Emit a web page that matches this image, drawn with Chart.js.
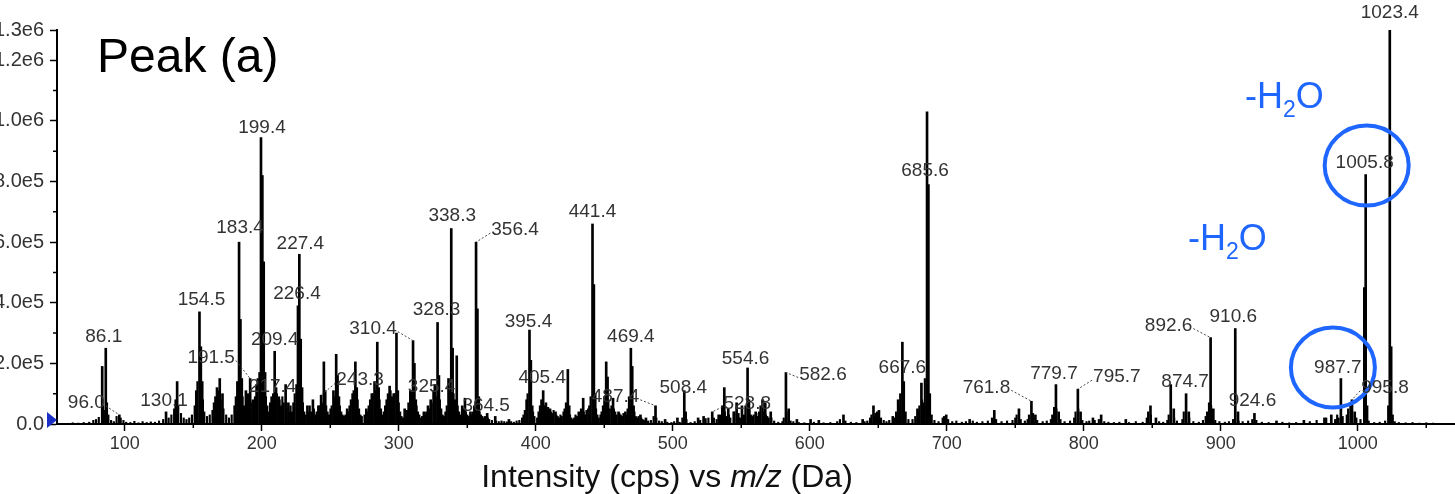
<!DOCTYPE html>
<html>
<head>
<meta charset="utf-8">
<title>Peak (a)</title>
<script src="https://cdn.jsdelivr.net/npm/chart.js@4.4.1/dist/chart.umd.min.js"></script>
<style>
  html, body { margin: 0; padding: 0; background: #fff; overflow: hidden; }
  #wrap { position: relative; width: 1455px; height: 494px; }
</style>
</head>
<body>
<div id="wrap"><canvas id="spectrum" width="1455" height="494"></canvas></div>
<script>
// main fragment peaks: m/z (Da) and intensity (cps)
const peakMz = [
  83.5, 86.1, 96.0, 130.1, 138.2, 154.5, 155.5, 156.5, 167.3, 169.3,
  171.3, 183.4, 184.4, 185.4, 188.4, 191.5, 193.5, 198.4, 199.4, 200.4,
  201.4, 202.4, 208.4, 209.4, 210.4, 212.4, 217.4, 219.4, 225.4, 226.4,
  227.4, 228.4, 229.4, 233.3, 237.3, 241.3, 243.3, 245.3, 246.3, 250.3,
  252.3, 254.3, 255.3, 256.3, 262.3, 266.3, 268.3, 269.3, 276.3, 280.3,
  282.3, 284.3, 285.3, 293.3, 296.3, 298.3, 299.3, 304.3, 308.4, 310.4,
  311.4, 312.4, 318.3, 321.3, 323.3, 325.4, 326.3, 328.3, 329.3, 336.3,
  338.3, 339.3, 342.3, 346.3, 348.3, 352.3, 356.4, 357.4, 358.4, 364.5,
  370.4, 380.4, 393.3, 395.4, 396.4, 397.4, 405.4, 407.4, 410.4, 414.4,
  420.4, 423.4, 424.4, 431.4, 434.6, 438.4, 441.4, 442.4, 443.4, 447.4,
  451.4, 452.4, 455.4, 456.4, 460.4, 465.4, 469.4, 470.4, 471.4, 476.4,
  480.4, 487.4, 494.4, 503.4, 508.4, 509.4, 518.5, 522.5, 528.8, 533.5,
  537.6, 540.5, 544.5, 546.6, 550.5, 554.6, 555.6, 560.5, 565.5, 567.5,
  571.5, 582.6, 584.6, 590.6, 600.6, 606.6, 624.6, 638.6, 646.5, 650.5,
  660.6, 664.5, 667.6, 668.6, 678.6, 681.5, 683.6, 685.6, 686.6, 687.6,
  699.6, 716.7, 734.7, 752.7, 761.8, 764.7, 778.5, 779.7, 781.7, 795.7,
  797.7, 806.7, 812.7, 830.7, 848.7, 852.7, 863.5, 865.7, 874.7, 876.7,
  891.6, 892.6, 894.6, 910.6, 912.6, 924.6, 940.7, 960.7, 975.7, 980.7,
  983.7, 987.7, 994.8, 995.8, 997.8, 1004.8, 1005.8, 1006.8, 1022.4, 1023.4,
  1024.4, 1025.4
];
const peakIntensity = [
  190000, 250000, 30000, 40000, 140000, 370000, 255000, 140000, 120000, 150000,
  100000, 600000, 345000, 150000, 110000, 150000, 80000, 170000, 945000, 820000,
  535000, 170000, 100000, 240000, 120000, 90000, 130000, 70000, 130000, 390000,
  560000, 280000, 120000, 60000, 80000, 60000, 95000, 205000, 110000, 50000,
  110000, 230000, 160000, 90000, 50000, 100000, 205000, 120000, 50000, 100000,
  140000, 270000, 120000, 125000, 100000, 300000, 110000, 50000, 110000, 275000,
  200000, 80000, 40000, 60000, 80000, 110000, 130000, 335000, 160000, 150000,
  645000, 250000, 225000, 60000, 85000, 40000, 600000, 380000, 90000, 35000,
  25000, 15000, 80000, 310000, 210000, 60000, 110000, 70000, 50000, 40000,
  40000, 180000, 60000, 40000, 85000, 50000, 660000, 460000, 100000, 30000,
  205000, 155000, 60000, 85000, 40000, 40000, 250000, 190000, 60000, 30000,
  20000, 60000, 15000, 20000, 110000, 40000, 20000, 25000, 40000, 30000,
  120000, 50000, 40000, 70000, 60000, 185000, 80000, 40000, 80000, 70000,
  40000, 170000, 50000, 15000, 15000, 12000, 30000, 15000, 60000, 45000,
  25000, 80000, 270000, 140000, 50000, 135000, 70000, 1030000, 790000, 100000,
  30000, 15000, 45000, 50000, 75000, 30000, 55000, 130000, 40000, 115000,
  40000, 20000, 30000, 15000, 60000, 20000, 130000, 50000, 100000, 40000,
  70000, 285000, 50000, 315000, 40000, 35000, 10000, 12000, 20000, 30000,
  15000, 150000, 70000, 80000, 40000, 450000, 823000, 60000, 60000, 1300000,
  255000, 30000
];

// small peaks along the baseline
const noiseMz = [
  62, 66, 70, 74, 77, 79, 81, 84, 85, 87,
  88, 90, 92, 94, 97, 99, 101, 104, 107, 110,
  113, 116, 119, 122, 125, 128, 132, 134, 136, 137,
  139, 141, 143, 145, 147, 149, 151, 152, 153, 157,
  158, 160, 162, 164, 165, 166, 168, 170, 172, 174,
  176, 178, 180, 181, 182, 186, 187, 190, 192, 194,
  195, 196, 197, 203, 204, 205, 206, 207, 211, 213,
  214, 215, 216, 218, 220, 221, 222, 223, 224, 230,
  231, 232, 234, 235, 236, 238, 239, 240, 242, 244,
  247, 248, 249, 251, 253, 257, 258, 259, 260, 261,
  263, 264, 265, 267, 270, 271, 272, 273, 275, 277,
  278, 279, 281, 283, 286, 287, 288, 289, 290, 291,
  292, 294, 295, 297, 300, 301, 302, 303, 305, 306,
  307, 309, 313, 314, 315, 316, 317, 319, 320, 322,
  324, 327, 330, 331, 332, 333, 334, 335, 337, 340,
  341, 343, 344, 345, 347, 349, 350, 351, 353, 354,
  355, 359, 360, 361, 362, 363, 365, 366, 368, 371,
  373, 375, 377, 379, 382, 384, 386, 388, 390, 391,
  392, 394, 398, 399, 401, 402, 403, 404, 406, 408,
  409, 411, 412, 413, 415, 416, 417, 418, 419, 421,
  422, 425, 426, 427, 428, 429, 430, 432, 433, 435,
  436, 437, 439, 440, 444, 445, 446, 448, 449, 450,
  453, 454, 457, 458, 459, 461, 462, 463, 464, 466,
  467, 468, 472, 473, 474, 475, 477, 478, 479, 482,
  484, 486, 488, 490, 492, 496, 499, 501, 505, 507,
  510, 513, 516, 520, 524, 526, 530, 532, 535, 536,
  538, 539, 541, 542, 545, 548, 549, 551, 552, 553,
  556, 557, 558, 559, 561, 562, 563, 564, 566, 568,
  569, 570, 572, 574, 577, 580, 581, 583, 586, 588,
  592, 596, 603, 610, 615, 620, 622, 626, 630, 634,
  640, 642, 644, 645, 647, 648, 649, 652, 654, 656,
  658, 662, 663, 665, 666, 670, 672, 675, 677, 679,
  680, 682, 684, 689, 691, 694, 697, 698, 701, 704,
  707, 711, 714, 719, 722, 726, 730, 733, 736, 740,
  744, 748, 750, 751, 754, 757, 759, 760, 763, 766,
  770, 773, 776, 777, 780, 783, 786, 790, 793, 794,
  796, 799, 802, 804, 808, 811, 815, 818, 822, 826,
  833, 838, 843, 846, 847, 849, 855, 858, 861, 862,
  866, 868, 872, 873, 877, 880, 884, 887, 889, 890,
  893, 896, 899, 903, 906, 909, 913, 916, 920, 923,
  926, 930, 935, 945, 950, 955, 965, 970, 977, 985,
  986, 989, 992, 993, 999, 1002, 1008, 1012, 1016, 1020,
  1027, 1030, 1035, 1040, 1045, 1050, 1055, 1062
];
const noiseIntensity = [
  4000, 3000, 5000, 6000, 12000, 15000, 22000, 60000, 45000, 70000,
  30000, 12000, 8000, 25000, 20000, 12000, 6000, 5000, 9000, 4000,
  8000, 5000, 7000, 6000, 10000, 15000, 20000, 30000, 50000, 80000,
  60000, 35000, 20000, 15000, 20000, 30000, 60000, 110000, 140000, 80000,
  40000, 25000, 30000, 45000, 70000, 90000, 110000, 80000, 50000, 30000,
  20000, 30000, 60000, 90000, 140000, 90000, 60000, 100000, 70000, 60000,
  90000, 130000, 150000, 90000, 60000, 40000, 70000, 90000, 100000, 80000,
  60000, 90000, 70000, 50000, 40000, 60000, 40000, 70000, 100000, 70000,
  40000, 30000, 40000, 60000, 40000, 50000, 30000, 40000, 60000, 70000,
  60000, 40000, 30000, 60000, 90000, 60000, 40000, 30000, 25000, 30000,
  40000, 60000, 80000, 110000, 80000, 50000, 30000, 25000, 30000, 40000,
  60000, 80000, 100000, 110000, 80000, 50000, 30000, 40000, 60000, 80000,
  100000, 110000, 90000, 100000, 70000, 40000, 25000, 20000, 30000, 45000,
  70000, 110000, 60000, 40000, 30000, 20000, 25000, 30000, 40000, 50000,
  70000, 90000, 80000, 50000, 30000, 25000, 40000, 60000, 110000, 100000,
  80000, 60000, 40000, 30000, 50000, 40000, 30000, 25000, 30000, 40000,
  60000, 40000, 30000, 25000, 20000, 25000, 20000, 15000, 12000, 10000,
  8000, 10000, 8000, 7000, 8000, 6000, 10000, 12000, 20000, 30000,
  45000, 100000, 40000, 25000, 20000, 40000, 60000, 80000, 60000, 45000,
  55000, 40000, 35000, 45000, 30000, 25000, 20000, 30000, 25000, 50000,
  70000, 30000, 20000, 15000, 20000, 30000, 25000, 35000, 50000, 40000,
  30000, 45000, 60000, 90000, 50000, 30000, 20000, 40000, 60000, 90000,
  80000, 50000, 50000, 40000, 30000, 35000, 30000, 25000, 35000, 30000,
  50000, 90000, 40000, 25000, 20000, 25000, 20000, 15000, 12000, 10000,
  12000, 25000, 20000, 10000, 8000, 6000, 5000, 8000, 6000, 20000,
  15000, 5000, 8000, 12000, 18000, 20000, 20000, 15000, 30000, 60000,
  40000, 25000, 30000, 20000, 40000, 35000, 20000, 25000, 30000, 60000,
  50000, 30000, 25000, 30000, 35000, 25000, 40000, 60000, 40000, 30000,
  25000, 20000, 20000, 10000, 6000, 8000, 20000, 40000, 10000, 8000,
  5000, 4000, 6000, 4000, 5000, 8000, 15000, 10000, 6000, 5000,
  8000, 10000, 20000, 30000, 25000, 35000, 40000, 20000, 12000, 8000,
  12000, 20000, 40000, 60000, 100000, 40000, 15000, 15000, 25000, 40000,
  60000, 80000, 150000, 30000, 12000, 8000, 20000, 25000, 15000, 8000,
  10000, 6000, 8000, 10000, 6000, 8000, 10000, 20000, 15000, 8000,
  10000, 12000, 20000, 30000, 15000, 10000, 15000, 30000, 35000, 12000,
  8000, 10000, 15000, 30000, 50000, 15000, 8000, 10000, 20000, 40000,
  50000, 12000, 8000, 10000, 12000, 15000, 8000, 6000, 5000, 6000,
  5000, 8000, 6000, 20000, 40000, 30000, 8000, 6000, 12000, 30000,
  20000, 10000, 15000, 40000, 20000, 8000, 6000, 12000, 25000, 40000,
  60000, 12000, 8000, 6000, 8000, 15000, 10000, 8000, 10000, 15000,
  12000, 6000, 5000, 6000, 4000, 5000, 8000, 12000, 20000, 30000,
  20000, 25000, 30000, 50000, 20000, 15000, 10000, 5000, 6000, 10000,
  8000, 5000, 4000, 5000, 3000, 4000, 3000, 2000
];

// annotated peaks
const peakLabels = [
  '86.1', '96.0', '130.1', '154.5', '183.4', '191.5', '199.4', '209.4', '217.4',
  '226.4', '227.4', '243.3', '310.4', '325.4', '328.3', '338.3', '356.4', '364.5',
  '395.4', '405.4', '441.4', '469.4', '487.4', '508.4', '528.8', '554.6', '582.6',
  '667.6', '685.6', '761.8', '779.7', '795.7', '874.7', '892.6', '910.6', '924.6',
  '987.7', '995.8', '1005.8', '1023.4'
];

const xTicks = [100, 200, 300, 400, 500, 600, 700, 800, 900, 1000];
const xMinorTicks = [150, 250, 350, 450, 550, 650, 750, 850, 950, 1050];
const yTicks = [0, 200000, 400000, 600000, 800000, 1000000, 1200000, 1300000];
const yTickText = ['0.0', '2.0e5', '4.0e5', '6.0e5', '8.0e5', '1.0e6', '1.2e6', '1.3e6'];
const yMinorTicks = [100000, 300000, 500000, 700000, 900000, 1100000];

const FONT = "'Liberation Sans', Arial, Helvetica, sans-serif";
const BLUE = '#1f66ff';

// where each label sits relative to the top of its peak (px)
const labelShift = {
  '1023.4': [0, -17], '1005.8': [-1, -12], '987.7': [-3, -11], '995.8': [33, -12],
  '924.6': [-2, -13], '910.6': [-2, -12], '892.6': [-42, -12], '874.7': [-1, -12],
  '795.7': [39, -12], '779.7': [-2, -11], '761.8': [-45, -14], '685.6': [-2, 59],
  '667.6': [0, 26], '582.6': [37, 2], '554.6': [-2, -9], '528.8': [35, -8],
  '508.4': [-1, -3], '487.4': [-40, -9], '469.4': [0, -11], '441.4': [0, -12],
  '405.4': [-1, -13], '395.4': [-1, -8], '364.5': [-1, -8], '356.4': [39, -12],
  '338.3': [1, -13], '328.3': [-1, -13], '325.4': [-2, -4], '310.4': [-40, -12],
  '243.3': [39, -15], '227.4': [1, -11], '226.4': [-1, -12], '217.4': [-13, 2],
  '209.4': [0, -11], '199.4': [1, -10], '191.5': [-39, -21], '183.4': [1, -14],
  '154.5': [2, -12], '130.1': [-2, -11], '96.0': [-33, -12], '86.1': [-2, -11]
};
// blue rings round these labels (centre shift from label centre)
const circled = { '1005.8': [2, 3], '987.7': [-5, 0] };

function toPoints(xs, ys) {
  return xs.map((x, i) => ({ x, y: ys[i] }));
}

function peakTop(chart, text) {
  const mz = parseFloat(text);
  const i = peakMz.indexOf(mz);
  return {
    x: chart.scales.x.getPixelForValue(mz),
    y: chart.scales.y.getPixelForValue(peakIntensity[i])
  };
}

const peakLabelPlugin = {
  id: 'peakLabels',
  afterDatasetsDraw(chart) {
    const ctx = chart.ctx;
    ctx.save();
    ctx.font = `19px ${FONT}`;
    ctx.textAlign = 'center';
    ctx.textBaseline = 'middle';
    peakLabels.forEach(t => {
      const p = peakTop(chart, t);
      const [dx, dy] = labelShift[t] || [0, -12];
      const cx = p.x + dx;
      const cy = p.y + dy;
      if (Math.abs(dx) > 15) {
        const hw = ctx.measureText(t).width / 2;
        const sx = dx > 0 ? cx - hw - 1 : cx + hw + 1;
        ctx.beginPath();
        ctx.setLineDash([2, 2]);
        ctx.lineWidth = 1;
        ctx.strokeStyle = '#444';
        ctx.moveTo(sx, cy + 3);
        ctx.lineTo(p.x, p.y);
        ctx.stroke();
        ctx.setLineDash([]);
      }
      ctx.fillStyle = '#333';
      ctx.fillText(t, cx, cy);
      if (circled[t]) {
        ctx.beginPath();
        ctx.strokeStyle = BLUE;
        ctx.lineWidth = 4;
        ctx.ellipse(cx + circled[t][0], cy + circled[t][1], 42, 40, 0, 0, Math.PI * 2);
        ctx.stroke();
      }
    });
    ctx.restore();
  }
};

function drawWaterLoss(ctx, x, baseline) {
  ctx.fillStyle = BLUE;
  ctx.textBaseline = 'alphabetic';
  ctx.textAlign = 'left';
  ctx.font = `36px ${FONT}`;
  ctx.fillText('-H', x, baseline);
  x += ctx.measureText('-H').width;
  ctx.font = `23px ${FONT}`;
  ctx.fillText('2', x, baseline + 9);
  x += ctx.measureText('2').width;
  ctx.font = `36px ${FONT}`;
  ctx.fillText('O', x, baseline);
}

const decorPlugin = {
  id: 'decor',
  afterDraw(chart) {
    const ctx = chart.ctx;
    const xs = chart.scales.x;
    const ys = chart.scales.y;
    const area = chart.chartArea;
    ctx.save();

    // minor ticks
    ctx.strokeStyle = '#000';
    ctx.lineWidth = 1.5;
    ctx.beginPath();
    xMinorTicks.forEach(v => {
      const px = xs.getPixelForValue(v);
      ctx.moveTo(px, area.bottom);
      ctx.lineTo(px, area.bottom + 4);
    });
    yMinorTicks.forEach(v => {
      const py = ys.getPixelForValue(v);
      ctx.moveTo(area.left - 4, py);
      ctx.lineTo(area.left, py);
    });
    ctx.stroke();

    // marker at the origin
    ctx.fillStyle = '#1b2fc4';
    ctx.beginPath();
    ctx.moveTo(area.left - 10, area.bottom - 12);
    ctx.lineTo(area.left, area.bottom - 4);
    ctx.lineTo(area.left - 10, area.bottom + 4);
    ctx.closePath();
    ctx.fill();

    // panel title
    ctx.fillStyle = '#000';
    ctx.font = `48px ${FONT}`;
    ctx.textAlign = 'left';
    ctx.textBaseline = 'alphabetic';
    ctx.fillText('Peak (a)', 97, 72);

    // water losses
    drawWaterLoss(ctx, 1245, 108);
    drawWaterLoss(ctx, 1188, 250);

    // axis title with italic m/z
    const parts = [['Intensity (cps) vs ', ''], ['m/z', 'italic '], [' (Da)', '']];
    let total = 0;
    parts.forEach(([s, st]) => {
      ctx.font = `${st}32px ${FONT}`;
      total += ctx.measureText(s).width;
    });
    let x = 667 - total / 2;
    ctx.fillStyle = '#111';
    parts.forEach(([s, st]) => {
      ctx.font = `${st}32px ${FONT}`;
      ctx.fillText(s, x, 487);
      x += ctx.measureText(s).width;
    });
    ctx.restore();
  }
};

new Chart(document.getElementById('spectrum'), {
  type: 'bar',
  data: {
    datasets: [
      {
        data: toPoints(noiseMz, noiseIntensity),
        backgroundColor: '#000',
        borderWidth: 0,
        barThickness: 1.5,
        grouped: false
      },
      {
        data: toPoints(peakMz, peakIntensity),
        backgroundColor: '#000',
        borderWidth: 0,
        barThickness: 2,
        grouped: false
      }
    ]
  },
  options: {
    responsive: false,
    animation: false,
    layout: { padding: { top: 30, right: 0, bottom: 0, left: 0 } },
    plugins: {
      legend: { display: false },
      tooltip: { enabled: false }
    },
    scales: {
      x: {
        type: 'linear',
        min: 50.5,
        max: 1071,
        offset: false,
        afterFit: s => { s.height = 70; },
        afterBuildTicks: s => { s.ticks = xTicks.map(v => ({ value: v })); },
        ticks: {
          autoSkip: false,
          maxRotation: 0,
          padding: 2,
          color: '#333',
          font: { family: FONT, size: 18 },
          callback: v => String(v)
        },
        grid: {
          drawOnChartArea: false,
          offset: false,
          tickLength: 7,
          tickColor: '#000',
          tickWidth: 1.5
        },
        border: { color: '#000', width: 2 }
      },
      y: {
        type: 'linear',
        min: 0,
        max: 1300000,
        afterFit: s => { s.width = 57; },
        afterBuildTicks: s => { s.ticks = yTicks.map(v => ({ value: v })); },
        ticks: {
          autoSkip: false,
          padding: 6,
          color: '#333',
          font: { family: FONT, size: 20 },
          callback: v => yTickText[yTicks.indexOf(v)]
        },
        grid: {
          drawOnChartArea: false,
          tickLength: 7,
          tickColor: '#000',
          tickWidth: 1.5
        },
        border: { color: '#000', width: 2 }
      }
    }
  },
  plugins: [peakLabelPlugin, decorPlugin]
});
</script>
</body>
</html>
